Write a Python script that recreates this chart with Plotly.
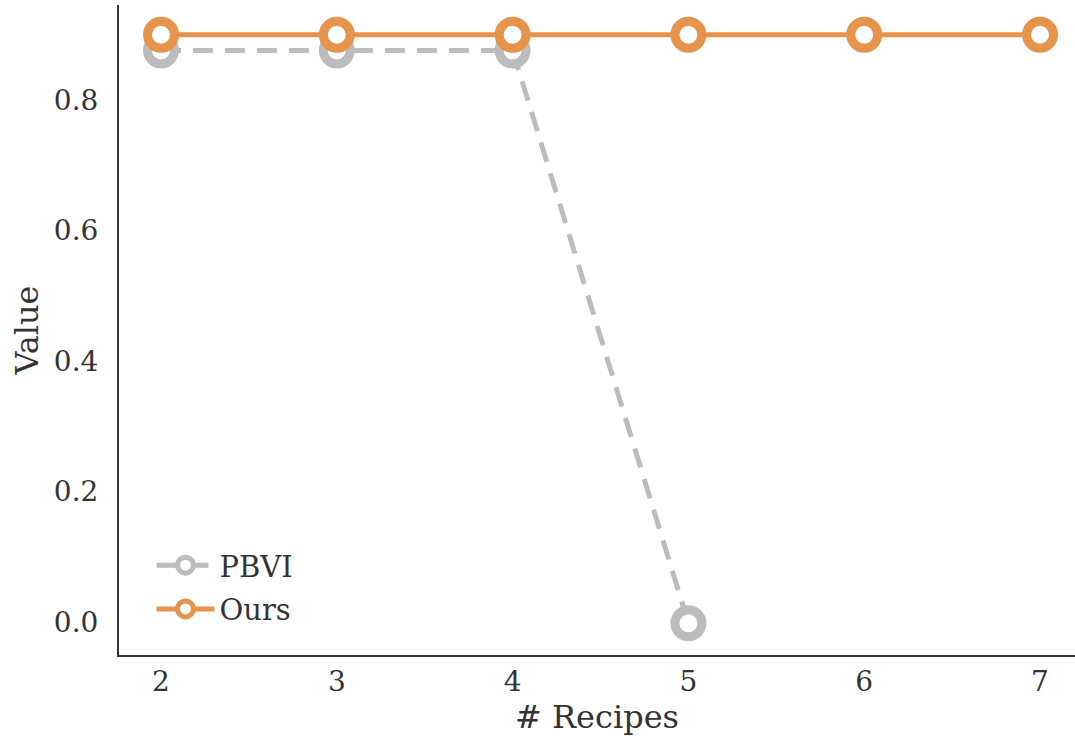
import plotly.graph_objects as go

recipes = [2, 3, 4, 5, 6, 7]
pbvi_x = [2, 3, 4, 5]
pbvi_values = [0.876, 0.876, 0.876, -0.002]
ours_values = [0.9, 0.9, 0.9, 0.9, 0.9, 0.9]
y_ticks = [0.0, 0.2, 0.4, 0.6, 0.8]

ORANGE = "#e6934b"
GRAY = "#bcbcbc"
FONT = "DejaVu Serif"
TXT = "#333333"

fig = go.Figure()
fig.add_trace(go.Scatter(
    x=pbvi_x, y=pbvi_values, name="PBVI", mode="lines+markers",
    line=dict(color=GRAY, width=5, dash="20px,12px"),
    marker=dict(symbol="circle", size=27, color="white", line=dict(color=GRAY, width=9)),
    legendgroup="a", cliponaxis=False,
))
fig.add_trace(go.Scatter(
    x=recipes, y=ours_values, name="Ours", mode="lines+markers",
    line=dict(color=ORANGE, width=5),
    marker=dict(symbol="circle", size=27, color="white", line=dict(color=ORANGE, width=9)),
    legendgroup="b", cliponaxis=False,
))

fig.update_layout(
    width=1075, height=740,
    margin=dict(l=119, r=0, t=5, b=85),
    plot_bgcolor="white", paper_bgcolor="white",
    font=dict(family=FONT, size=28, color=TXT),
    showlegend=True,
    legend=dict(x=0.034, y=0.031, xanchor="left", yanchor="bottom",
                bgcolor="rgba(0,0,0,0)", font=dict(size=29, family=FONT, color=TXT),
                tracegroupgap=3, itemwidth=58),
    xaxis=dict(range=[1.761, 7.199], tickvals=recipes, showgrid=False, zeroline=False,
               showline=True, linecolor=TXT, linewidth=2, ticks="",
               ticklabelstandoff=0, tickfont=dict(size=28, family=FONT, color=TXT),
               title=dict(text="# Recipes", font=dict(size=32, family=FONT, color=TXT), standoff=6)),
    yaxis=dict(range=[-0.0506, 0.9456], tickvals=y_ticks, tickformat=".1f", showgrid=False, zeroline=False,
               showline=True, linecolor=TXT, linewidth=2, ticks="",
               ticklabelstandoff=13, tickfont=dict(size=28, family=FONT, color=TXT),
               title=dict(text="Value", font=dict(size=32, family=FONT, color=TXT), standoff=6)),
)

fig.write_html("out.html")
